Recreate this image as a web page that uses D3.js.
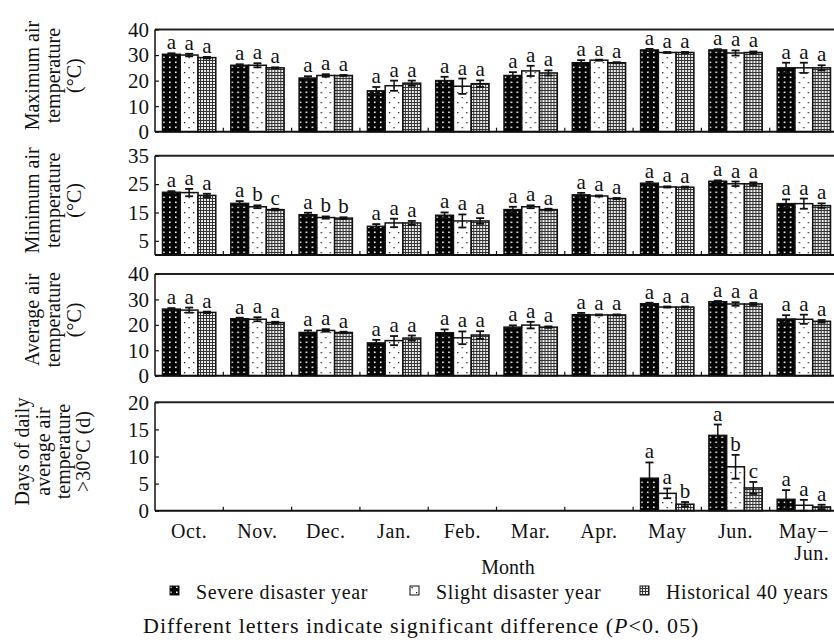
<!DOCTYPE html>
<html>
<head>
<meta charset="utf-8">
<script src="https://cdn.jsdelivr.net/npm/d3@7"></script>
<style>
  body { margin: 0; background: #fff; }
  svg text { font-family: "Liberation Serif", "Times New Roman", serif; fill: #111; }
</style>
</head>
<body>
<svg id="chart" width="834" height="640"></svg>
<script>
// months on the x axis
var months = ["Oct.", "Nov.", "Dec.", "Jan.", "Feb.", "Mar.", "Apr.", "May", "Jun.", "May−Jun."];
var seriesNames = ["Severe disaster year", "Slight disaster year", "Historical 40 years"];

// maximum air temperature (°C): [severe, slight, historical]
var maxMean = [[30.3, 30.0, 29.0], [26.0, 26.0, 25.0], [21.0, 22.0, 22.0], [16.0, 18.0, 19.0], [20.0, 17.8, 18.8],
               [22.0, 23.8, 23.0], [27.0, 28.0, 27.0], [32.0, 31.0, 31.0], [32.0, 30.8, 31.0], [25.0, 25.0, 25.0]];
var maxErr = [[0.4, 0.5, 0.3], [0.4, 0.8, 0.2], [0.7, 0.5, 0.2], [1.5, 2.0, 1.0], [1.5, 3.0, 1.3],
              [1.3, 2.0, 1.0], [1.0, 0.2, 0.2], [0.4, 0.2, 0.2], [0.3, 1.0, 0.4], [2.0, 2.0, 1.0]];
var maxLetters = [["a","a","a"], ["a","a","a"], ["a","a","a"], ["a","a","a"], ["a","a","a"],
                  ["a","a","a"], ["a","a","a"], ["a","a","a"], ["a","a","a"], ["a","a","a"]];

// minimum air temperature (°C)
var minMean = [[22.1, 22.0, 21.0], [18.2, 17.0, 16.0], [14.2, 13.2, 13.0], [10.1, 11.3, 11.3], [14.0, 12.0, 12.0],
               [16.0, 17.0, 16.0], [21.2, 20.8, 19.9], [25.3, 24.0, 23.9], [26.0, 25.1, 25.1], [18.1, 18.1, 17.4]];
var minErr = [[0.4, 1.3, 0.6], [0.8, 0.5, 0.3], [0.7, 0.4, 0.3], [0.8, 1.5, 0.7], [1.0, 2.3, 1.0],
              [1.0, 0.5, 0.3], [0.7, 0.2, 0.2], [0.5, 0.2, 0.2], [0.3, 0.8, 0.5], [1.5, 1.8, 0.8]];
var minLetters = [["a","a","a"], ["a","b","c"], ["a","b","b"], ["a","a","a"], ["a","a","a"],
                  ["a","a","a"], ["a","a","a"], ["a","a","a"], ["a","a","a"], ["a","a","a"]];

// average air temperature (°C)
var avgMean = [[26.2, 25.8, 24.9], [22.4, 22.2, 20.9], [17.0, 17.8, 17.0], [12.9, 13.8, 14.8], [16.9, 14.9, 16.0],
               [19.1, 19.9, 19.1], [24.0, 23.9, 23.9], [28.3, 27.0, 27.0], [29.1, 28.2, 28.2], [22.3, 22.2, 21.4]];
var avgErr = [[0.4, 1.0, 0.3], [0.4, 0.8, 0.3], [0.8, 0.5, 0.3], [1.2, 1.8, 1.0], [1.3, 2.5, 1.5],
              [0.7, 1.3, 0.3], [0.7, 0.2, 0.2], [0.4, 0.2, 0.2], [0.3, 0.7, 0.4], [1.5, 1.8, 0.5]];
var avgLetters = maxLetters;

// days of daily average air temperature > 30°C (d)
var daysMean = [[0, 0, 0], [0, 0, 0], [0, 0, 0], [0, 0, 0], [0, 0, 0],
                [0, 0, 0], [0, 0, 0], [6.0, 3.2, 1.2], [13.9, 8.1, 4.2], [2.1, 1.0, 0.7]];
var daysErr = [[0, 0, 0], [0, 0, 0], [0, 0, 0], [0, 0, 0], [0, 0, 0],
               [0, 0, 0], [0, 0, 0], [2.9, 0.9, 0.4], [2.0, 2.2, 1.1], [1.7, 1.0, 0.4]];
var daysLetters = [["","",""], ["","",""], ["","",""], ["","",""], ["","",""],
                   ["","",""], ["","",""], ["a","a","b"], ["a","b","c"], ["a","a","a"]];

var maxTicks = [0, 10, 20, 30, 40];
var minTicks = [5, 15, 25, 35];
var avgTicks = [0, 10, 20, 30, 40];
var daysTicks = [0, 5, 10, 15, 20];

var svg = d3.select("#chart");
var defs = svg.append("defs");

// fill patterns
var pSevere = defs.append("pattern").attr("id", "pSevere").attr("patternUnits", "userSpaceOnUse")
    .attr("width", 6).attr("height", 5);
pSevere.append("rect").attr("width", 6).attr("height", 5).attr("fill", "#000");
pSevere.append("rect").attr("x", 2).attr("y", 1.5).attr("width", 1.6).attr("height", 1.6).attr("fill", "#fff");

var pSlight = defs.append("pattern").attr("id", "pSlight").attr("patternUnits", "userSpaceOnUse")
    .attr("width", 9).attr("height", 10);
pSlight.append("rect").attr("width", 9).attr("height", 10).attr("fill", "#fff");
pSlight.append("rect").attr("x", 2).attr("y", 2).attr("width", 1.3).attr("height", 1.3).attr("fill", "#222");
pSlight.append("rect").attr("x", 6.5).attr("y", 7).attr("width", 1.3).attr("height", 1.3).attr("fill", "#222");

var pHist = defs.append("pattern").attr("id", "pHist").attr("patternUnits", "userSpaceOnUse")
    .attr("width", 3).attr("height", 3);
pHist.append("rect").attr("width", 3).attr("height", 3).attr("fill", "#eee");
pHist.append("rect").attr("width", 3).attr("height", 1).attr("fill", "#333");
pHist.append("rect").attr("width", 1).attr("height", 3).attr("fill", "#333");

var fills = ["url(#pSevere)", "url(#pSlight)", "url(#pHist)"];

var x = d3.scaleBand().domain(months).range([155, 838]);
var xs = d3.scaleBand().domain(seriesNames).range([7.5, x.bandwidth() - 7.5]);

function drawPanel(mean, err, letters, ticks, domain, top, bottom, titleLines, titleX) {
  var y = d3.scaleLinear().domain(domain).range([bottom, top]);
  var g = svg.append("g");

  // frame
  g.append("line").attr("x1", 155).attr("x2", 838).attr("y1", top).attr("y2", top)
    .attr("stroke", "#222").attr("stroke-width", 2);
  g.append("line").attr("x1", 155).attr("x2", 155).attr("y1", top).attr("y2", bottom)
    .attr("stroke", "#111").attr("stroke-width", 1.5);

  // y axis labels and inward ticks
  var yAxis = d3.axisRight(y).tickValues(ticks).tickSize(4).tickFormat("");
  g.append("g").attr("transform", "translate(155,0)").call(yAxis)
    .call(function(a) { a.select(".domain").remove(); a.selectAll("line").attr("stroke", "#111").attr("stroke-width", 1.2); });
  g.selectAll(".ytl").data(ticks).enter().append("text")
    .attr("x", 149).attr("y", function(d) { return y(d); }).attr("dy", "0.35em")
    .attr("text-anchor", "end").style("font-size", "21px").text(function(d) { return d; });

  // bars
  months.forEach(function(m, i) {
    var gg = g.append("g").attr("transform", "translate(" + x(m) + ",0)");
    seriesNames.forEach(function(s, j) {
      var v = mean[i][j], e = err[i][j];
      var bx = xs(s), bw = xs.bandwidth();
      if (v > 0) {
        gg.append("rect").attr("x", bx).attr("y", y(v)).attr("width", bw).attr("height", y(0) - y(v))
          .attr("fill", fills[j]).attr("stroke", "#111").attr("stroke-width", 1.5);
        var cx = bx + bw / 2;
        gg.append("line").attr("x1", cx).attr("x2", cx).attr("y1", y(v - e)).attr("y2", y(v + e))
          .attr("stroke", "#111").attr("stroke-width", 1.5);
        [v - e, v + e].forEach(function(t) {
          gg.append("line").attr("x1", cx - 4).attr("x2", cx + 4).attr("y1", y(t)).attr("y2", y(t))
            .attr("stroke", "#111").attr("stroke-width", 1.8);
        });
      }
      if (letters[i][j]) {
        gg.append("text").attr("x", bx + bw / 2).attr("y", y(v + e) - 4)
          .attr("text-anchor", "middle").style("font-size", "21px").text(letters[i][j]);
      }
    });
  });

  // bottom axis with inward ticks between months
  g.append("line").attr("x1", 155).attr("x2", 838).attr("y1", bottom).attr("y2", bottom)
    .attr("stroke", "#111").attr("stroke-width", 2);
  g.selectAll(".xt").data(months.slice(1)).enter().append("line")
    .attr("x1", function(d) { return x(d); }).attr("x2", function(d) { return x(d); })
    .attr("y1", bottom).attr("y2", bottom - 4).attr("stroke", "#111").attr("stroke-width", 1.2);

  // rotated axis title
  var cy = (top + bottom) / 2 - 5;
  titleLines.forEach(function(t, k) {
    g.append("text").attr("transform", "translate(" + titleX[k] + "," + cy + ") rotate(-90)")
      .attr("text-anchor", "middle").style("font-size", "20px").text(t);
  });
}

drawPanel(maxMean, maxErr, maxLetters, maxTicks, [0, 40], 29.5, 131.7,
  ["Maximum air", "temperature", "(°C)"], [39, 60, 81]);
drawPanel(minMean, minErr, minLetters, minTicks, [0, 35], 155.7, 255,
  ["Minimum air", "temperature", "(°C)"], [39, 60, 81]);
drawPanel(avgMean, avgErr, avgLetters, avgTicks, [0, 40], 274, 375.7,
  ["Average air", "temperature", "(°C)"], [39, 60, 81]);
drawPanel(daysMean, daysErr, daysLetters, daysTicks, [0, 20], 402.3, 510.7,
  ["Days of daily", "average air", "temperature", ">30°C (d)"], [29, 50, 70, 90]);

// month labels
months.forEach(function(m) {
  var cx = x(m) + x.bandwidth() / 2;
  var lines = m.indexOf("−") > 0 ? ["May−", "Jun."] : [m];
  lines.forEach(function(t, k) {
    svg.append("text").attr("x", k === 0 ? cx : cx + 8).attr("y", 538 + k * 22)
      .attr("text-anchor", "middle").style("font-size", "20px").style("letter-spacing", "0.6px").text(t);
  });
});

svg.append("text").attr("x", 508).attr("y", 574).attr("text-anchor", "middle")
  .style("font-size", "20px").text("Month");

// legend
var legX = [170, 410, 640];
seriesNames.forEach(function(s, j) {
  svg.append("rect").attr("x", legX[j]).attr("y", 586).attr("width", 9).attr("height", 9)
    .attr("fill", fills[j]).attr("stroke", "#111").attr("stroke-width", 1);
  svg.append("text").attr("x", legX[j] + 26).attr("y", 599)
    .style("font-size", "20px").style("letter-spacing", "0.6px").text(s);
});

// footnote
var foot = svg.append("text").attr("x", 143).attr("y", 633)
  .style("font-size", "22px").style("letter-spacing", "1px");
foot.append("tspan").text("Different letters indicate significant difference (");
foot.append("tspan").style("font-style", "italic").text("P");
foot.append("tspan").text("<0. 05)");
</script>
</body>
</html>
